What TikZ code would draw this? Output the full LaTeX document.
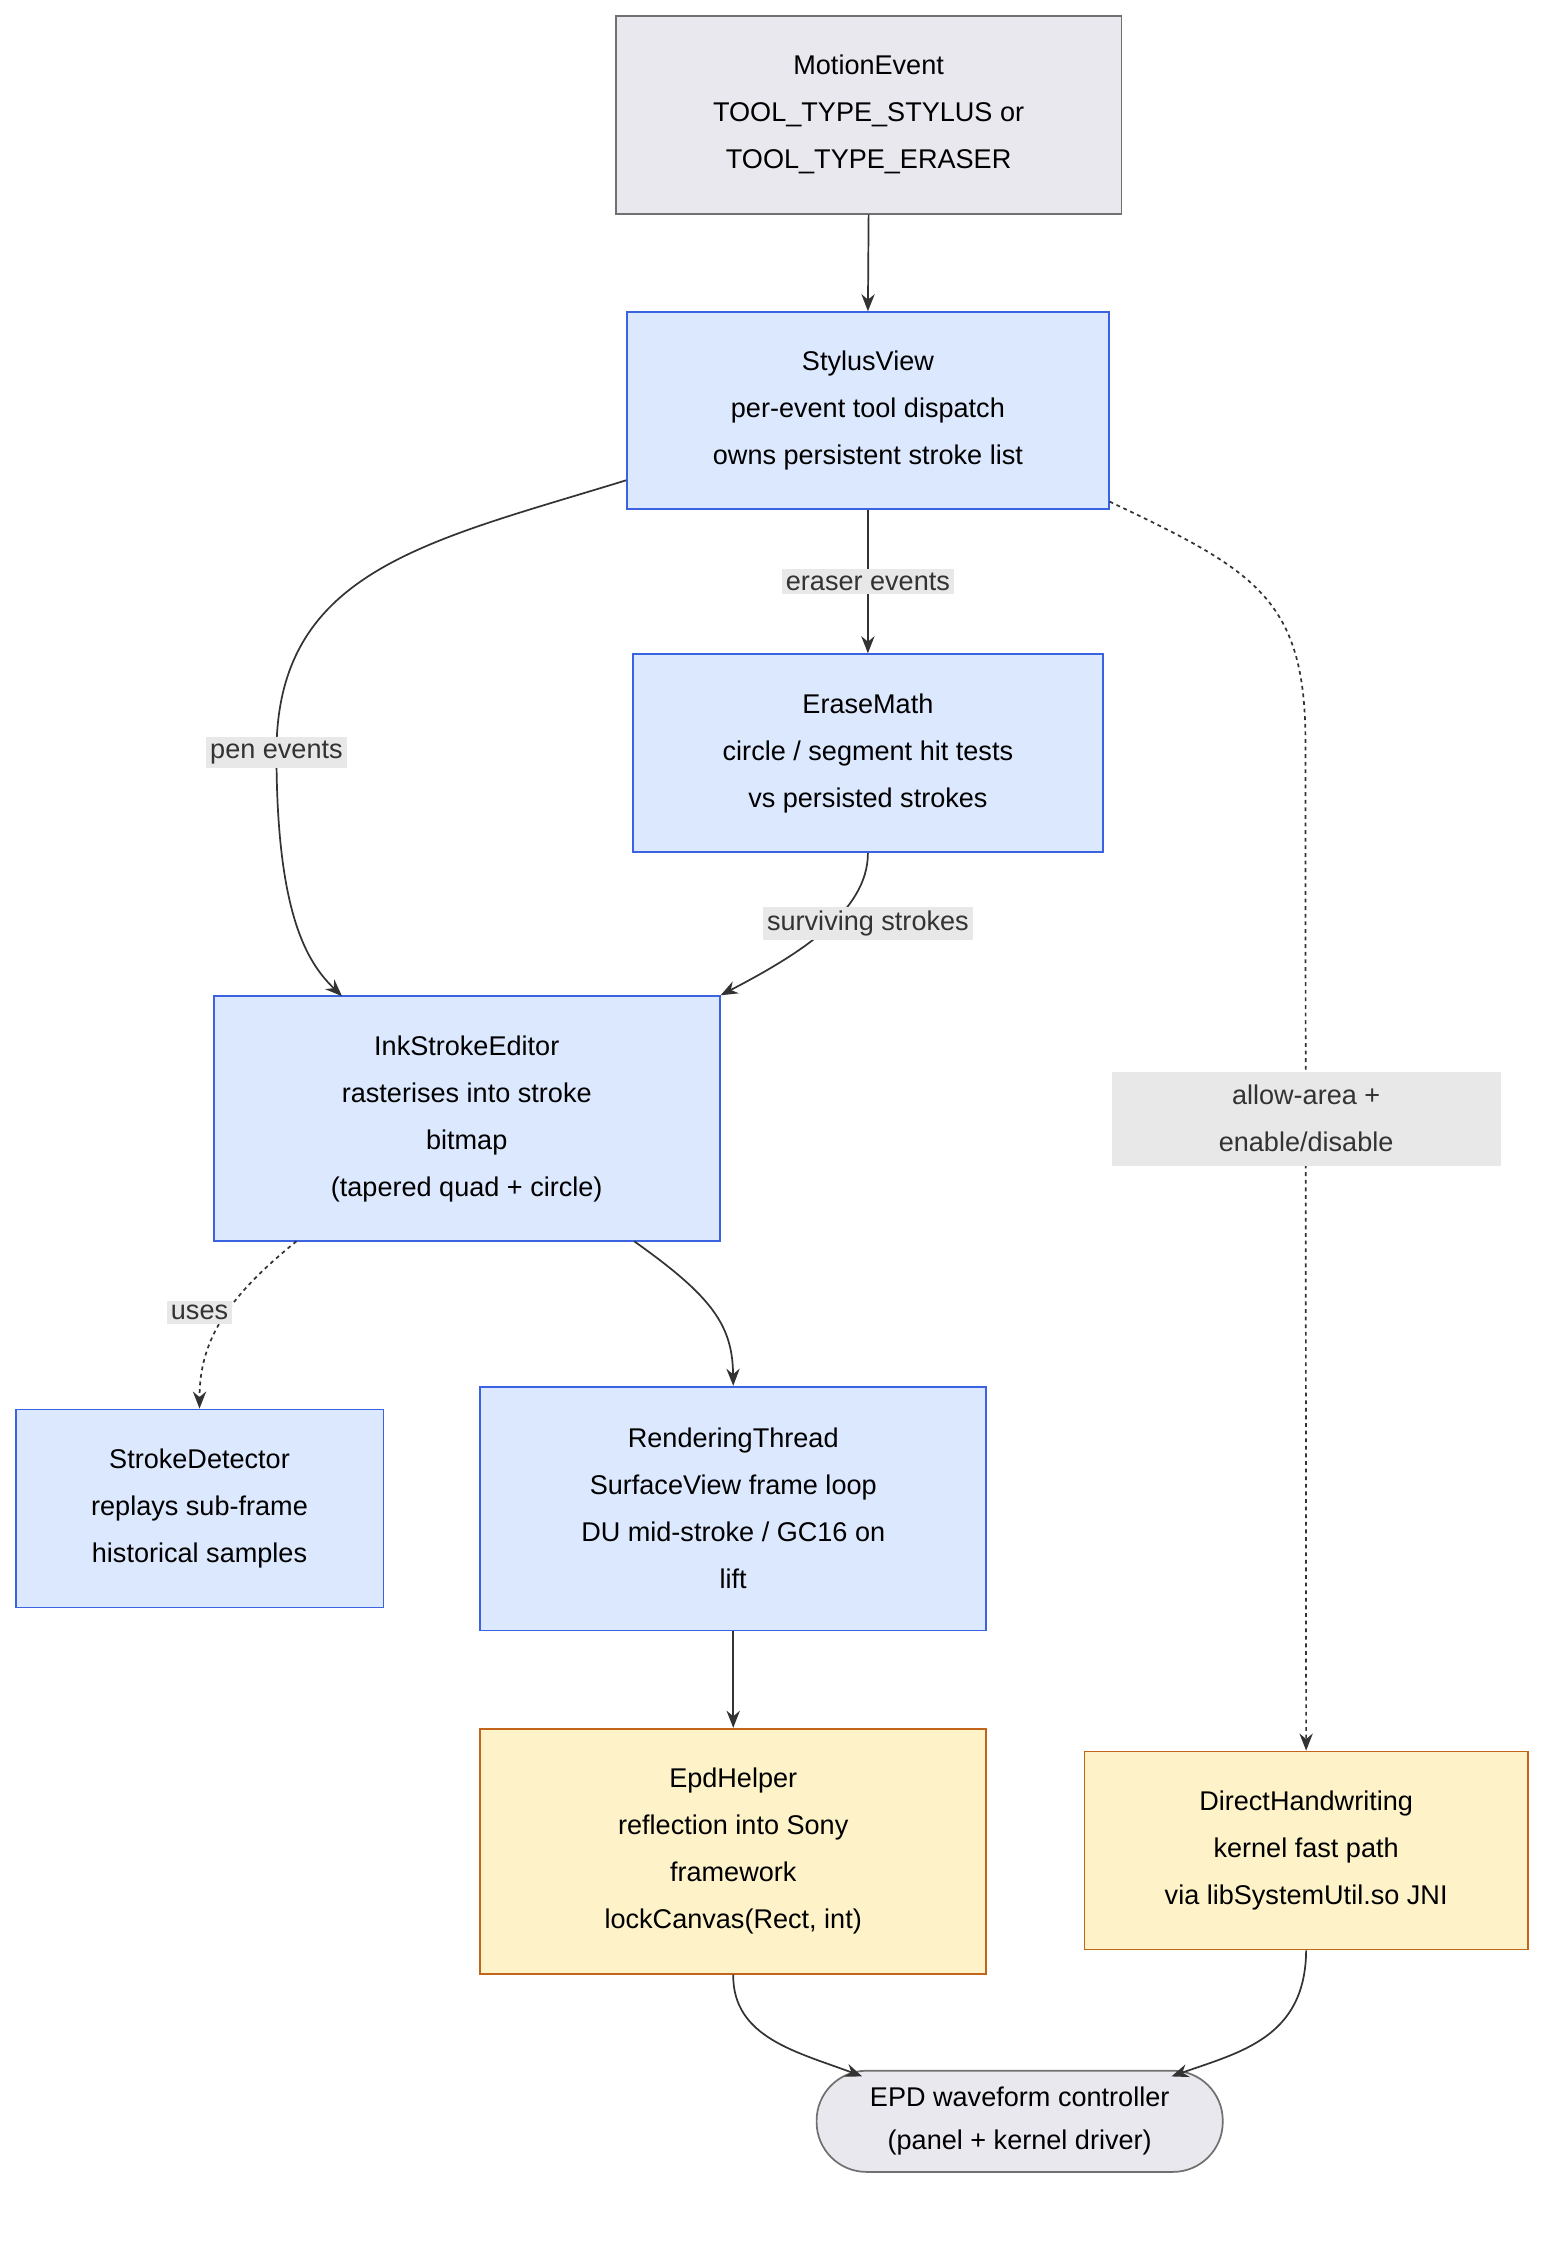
\documentclass[tikz,border=0pt]{standalone}
\usepackage{fontspec}
\setmainfont{Liberation Sans}
\usetikzlibrary{arrows.meta}
\definecolor{bluef}{HTML}{DCE8FD}\definecolor{blued}{HTML}{3B63E0}
\definecolor{yelf}{HTML}{FDF2C8}\definecolor{yeld}{HTML}{C0651A}
\definecolor{grayf}{HTML}{E8E8EE}\definecolor{edgec}{HTML}{333333}
\definecolor{lblf}{HTML}{E8E8E8}
\tikzset{
 box/.style={draw, line width=0.9pt, align=center, inner sep=0pt, font=\fontsize{14.25}{24.75}\selectfont, text=black},
 bluebox/.style={box, fill=bluef, draw=blued},
 yelbox/.style={box, fill=yelf, draw=yeld},
 graybox/.style={box, fill=grayf, draw=edgec!70},
 conn/.style={draw=edgec, line width=0.9pt, -{Stealth[length=9pt,width=7pt]}},
 dconn/.style={conn, dash pattern=on 2pt off 2pt},
 lbl/.style={fill=lblf, align=center, inner sep=2pt, font=\fontsize{14.25}{24.75}\selectfont, text=edgec}
}
\begin{document}
\begin{tikzpicture}[x=0.75pt,y=-0.75pt]
\useasboundingbox[fill=white] (0,0) rectangle (1100,1576);
\node[graybox, minimum width=355*0.75pt, minimum height=139*0.75pt] (me) at (609.5,80.5) {MotionEvent\\TOOL\_TYPE\_STYLUS or\\TOOL\_TYPE\_ERASER};
\node[bluebox, minimum width=338*0.75pt, minimum height=138*0.75pt] (sv) at (609,288) {StylusView\\per-event tool dispatch\\owns persistent stroke list};
\node[bluebox, minimum width=330*0.75pt, minimum height=139*0.75pt] (em) at (609,528.5) {EraseMath\\circle / segment hit tests\\vs persisted strokes};
\node[bluebox, minimum width=355*0.75pt, minimum height=172*0.75pt] (ink) at (327.5,785) {InkStrokeEditor\\rasterises into stroke\\bitmap\\(tapered quad + circle)};
\node[bluebox, minimum width=258*0.75pt, minimum height=139*0.75pt] (sd) at (140,1058.5) {StrokeDetector\\replays sub-frame\\historical samples};
\node[bluebox, minimum width=355*0.75pt, minimum height=171*0.75pt] (rt) at (514.5,1058.5) {RenderingThread\\SurfaceView frame loop\\DU mid-stroke / GC16 on\\lift};
\node[yelbox, minimum width=355*0.75pt, minimum height=172*0.75pt] (epd) at (514.5,1299) {EpdHelper\\reflection into Sony\\framework\\lockCanvas(Rect, int)};
\node[yelbox, minimum width=311*0.75pt, minimum height=139*0.75pt] (dh) at (916.5,1298.5) {DirectHandwriting\\kernel fast path\\via libSystemUtil.so JNI};
\node[graybox, rounded corners=35*0.75pt, minimum width=285*0.75pt, minimum height=71*0.75pt, font=\fontsize{14.25}{22.5}\selectfont] (ctl) at (715.5,1488.5) {EPD waveform controller\\(panel + kernel driver)};

\draw[conn] (me.south) -- (sv.north);
\draw[conn] (sv.south) -- (em.north);
\node[lbl] at (609,408) {eraser events};
\draw[conn] (sv.west|-0,337) .. controls (300,380) and (194,400) .. (194,528) .. controls (194,640) and (215,675) .. (240,699);
\node[lbl] at (194,528) {pen events};
\draw[conn] (em.south) .. controls (609,640) and (560,670) .. (ink.north east);
\node[lbl] at (609,648) {surviving strokes};
\draw[dconn] (sv.east|-0,352) .. controls (880,400) and (916,420) .. (916,520) -- (dh.north);
\node[lbl, minimum width=273*0.75pt, minimum height=66*0.75pt] at (916.5,785) {allow-area +\\enable/disable};
\draw[dconn] (208,871) .. controls (160,910) and (140,940) .. (sd.north);
\node[lbl] at (140,921) {uses};
\draw[conn] (445,871) .. controls (500,910) and (514,930) .. (rt.north);
\draw[conn] (rt.south) -- (epd.north);
\draw[conn] (epd.south) .. controls (514,1430) and (560,1440) .. (605,1457);
\draw[conn] (dh.south) .. controls (916,1430) and (870,1440) .. (822,1457);
\end{tikzpicture}
\end{document}
